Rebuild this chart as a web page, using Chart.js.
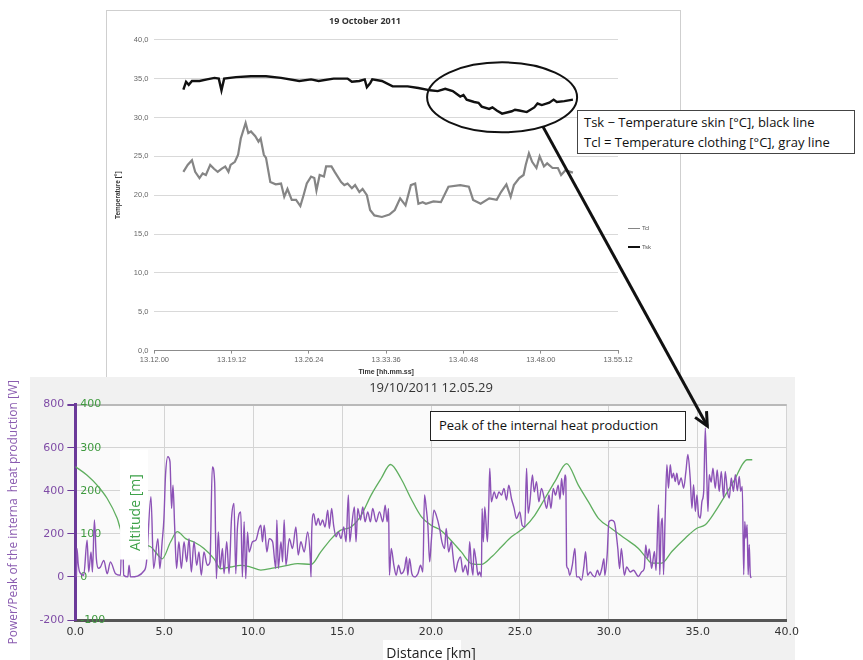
<!DOCTYPE html>
<html>
<head>
<meta charset="utf-8">
<script src="https://cdn.jsdelivr.net/npm/chart.js@4.4.0/dist/chart.umd.min.js"></script>
<style>
  body { margin:0; width:863px; height:660px; position:relative; background:#fff; overflow:hidden; font-family:"Open Sans", sans-serif; }
  #topBox { position:absolute; left:106px; top:10px; width:573px; height:367px; border:1px solid #cfcfcf; border-bottom:none; background:#fff; }
  #topWrap { position:absolute; left:0; top:0; width:573px; height:367px; }
  #bottomBg { position:absolute; left:30px; top:377px; width:765px; height:283px; background:#f1f1f1; }
  #xTitleBg { position:absolute; left:383px; top:640px; width:78px; height:20px; background:#fff; }
  #bottomWrap { position:absolute; left:0; top:377px; width:805px; height:285px; }
  .legend { position:absolute; left:628px; font:6px "Liberation Sans", sans-serif; color:#555; }
  .legend span { display:inline-block; width:12px; vertical-align:middle; margin-right:2px; }
  #skinNote { position:absolute; left:577px; top:110px; width:278px; height:44px; border:1px solid #444; background:#fff;
              font:13px "Open Sans", sans-serif; color:#111; line-height:20px; padding:1px 0 0 6px; box-sizing:border-box; }
  #peakNote { position:absolute; left:430px; top:411px; width:256px; height:30px; border:1.5px solid #222; background:#fff;
              font:13px "Open Sans", sans-serif; color:#111; line-height:27px; padding-left:8px; box-sizing:border-box; }
  #marks { position:absolute; left:0; top:0; width:863px; height:660px; pointer-events:none; }
</style>
</head>
<body>
<div id="topBox"><div id="topWrap"><canvas id="topCanvas"></canvas></div></div>
<div class="legend" style="top:225px"><span style="border-top:1.5px solid #858585"></span>Tcl</div>
<div class="legend" style="top:244px"><span style="border-top:2.5px solid #111"></span>Tsk</div>
<div id="bottomBg"></div>
<div id="xTitleBg"></div>
<div id="bottomWrap"><canvas id="bottomCanvas"></canvas></div>
<div id="skinNote">Tsk &minus; Temperature skin [°C], black line<br>Tcl = Temperature clothing [°C], gray line</div>
<div id="peakNote">Peak of the internal heat production</div>
<svg id="marks" xmlns="http://www.w3.org/2000/svg"></svg>
<script>
// top chart: minutes after 13.12.00
const tskMin = [2.7, 2.95, 3.2, 3.5, 4.2, 4.9, 5.6, 6.0, 6.25, 6.5, 7.6, 9.0, 10.4, 11.8, 13.5, 14.6, 15.3, 16.7, 18.0, 18.4, 19.1, 19.6, 19.8, 20.1, 20.3, 21.2, 22.2, 23.6, 24.6, 25.7, 26.4, 27.1, 27.8, 28.5, 28.8, 29.1, 29.8, 30.2, 30.5, 31.2, 31.5, 31.9, 32.4, 33.3, 33.6, 34.0, 34.7, 35.4, 35.7, 36.1, 36.8, 37.2, 37.5, 38.2, 39.0];
const tskTemp = [33.6, 34.6, 34.2, 34.7, 34.7, 34.9, 35.1, 35.0, 33.5, 35.0, 35.2, 35.3, 35.3, 35.1, 34.7, 34.9, 34.7, 35.0, 35.0, 34.6, 34.7, 34.9, 33.9, 34.4, 34.9, 34.7, 34.0, 34.0, 33.8, 33.5, 33.4, 33.7, 33.4, 32.7, 32.9, 32.3, 32.0, 31.9, 31.4, 31.1, 31.3, 30.9, 30.5, 30.8, 31.0, 30.9, 30.7, 31.3, 31.8, 31.6, 31.9, 32.3, 32.0, 32.1, 32.3];
const tclMin = [2.7, 3.1, 3.5, 3.8, 4.2, 4.5, 4.8, 5.2, 5.55, 5.9, 6.25, 6.6, 6.9, 7.1, 7.5, 7.8, 8.05, 8.5, 8.75, 9.0, 9.4, 9.7, 9.9, 10.2, 10.4, 10.8, 11.3, 11.8, 12.1, 12.4, 12.8, 13.2, 13.6, 13.9, 14.2, 14.6, 14.9, 15.1, 15.4, 15.8, 16.0, 16.5, 16.8, 17.4, 17.7, 18.0, 18.4, 18.7, 19.1, 19.4, 19.8, 20.1, 20.5, 21.2, 21.9, 22.4, 22.9, 23.4, 23.9, 24.3, 24.6, 25.0, 25.3, 26.0, 26.7, 27.4, 28.5, 29.3, 29.7, 30.4, 31.2, 31.9, 32.3, 32.8, 33.2, 33.5, 34.0, 34.4, 34.6, 34.9, 35.2, 35.6, 35.9, 36.3, 36.6, 37.1, 37.6, 37.9, 38.3, 39.0];
const tclTemp = [23.0, 23.9, 24.5, 23.0, 22.2, 22.8, 22.6, 23.9, 23.4, 23.0, 23.4, 23.7, 23.0, 23.9, 24.3, 25.2, 27.3, 29.3, 28.0, 28.2, 27.6, 26.9, 27.3, 25.2, 24.8, 21.7, 21.4, 21.5, 19.8, 20.8, 19.4, 19.4, 18.6, 20.0, 21.5, 22.4, 22.2, 20.6, 22.6, 22.4, 23.7, 23.7, 23.0, 21.7, 21.3, 21.5, 20.9, 21.3, 20.4, 20.8, 20.0, 18.1, 17.4, 17.2, 17.5, 18.1, 19.6, 18.7, 21.3, 21.5, 18.9, 19.1, 18.9, 19.2, 19.1, 21.1, 21.3, 21.1, 19.4, 18.9, 19.6, 19.4, 20.4, 21.4, 19.8, 21.3, 22.2, 22.6, 23.9, 25.4, 24.3, 23.5, 25.0, 23.7, 24.1, 23.5, 23.5, 22.6, 23.2, 22.9];
const timeStart = 13 * 3600 + 12 * 60; // 13.12.00

// bottom chart: distance [km]
const powerKm = [0.0, 0.06, 0.09, 0.16, 0.24, 0.47, 0.66, 0.75, 0.88, 0.96, 1.07, 1.18, 1.3, 1.41, 1.6, 1.79, 1.97, 2.26, 2.54, 2.63, 2.72, 2.95, 3.02, 3.1, 3.89, 4.0, 4.25, 4.4, 4.64, 4.75, 4.88, 4.98, 5.07, 5.2, 5.32, 5.41, 5.49, 5.58, 5.69, 5.82, 5.96, 6.11, 6.26, 6.39, 6.52, 6.67, 6.82, 6.95, 7.08, 7.23, 7.42, 7.57, 7.7, 7.83, 7.93, 8.04, 8.14, 8.27, 8.36, 8.51, 8.64, 8.78, 8.92, 9.02, 9.11, 9.3, 9.39, 9.49, 9.58, 9.68, 9.77, 9.96, 10.15, 10.33,
  10.43, 10.52, 10.62, 10.77, 10.9, 11.09, 11.27, 11.33, 11.41, 11.56, 11.65, 11.74, 11.84, 12.03, 12.21, 12.4, 12.53, 12.68, 12.87, 13.06, 13.21, 13.25, 13.29, 13.4, 13.53, 13.66, 13.77, 13.9, 14.04, 14.19, 14.28, 14.41, 14.52, 14.66, 14.79, 14.94, 15.09, 15.22, 15.35, 15.43, 15.54, 15.69, 15.78, 15.88, 16.03, 16.16, 16.29, 16.44, 16.59, 16.72, 16.91, 17.1, 17.29, 17.42, 17.53, 17.61, 17.66, 17.76, 17.91, 18.04, 18.17, 18.32, 18.51, 18.62, 18.69, 18.79, 18.92, 19.07, 19.26, 19.41, 19.54, 19.63, 19.73, 19.82, 19.92, 20.01, 20.16, 20.29, 20.48, 20.61, 20.76, 20.85, 20.99, 21.14, 21.23, 21.36, 21.51, 21.66,
  21.79, 21.93, 22.08, 22.17, 22.27, 22.36, 22.41, 22.55, 22.64, 22.73, 22.83, 22.87, 22.94, 23.02, 23.17, 23.24, 23.3, 23.39, 23.55, 23.68, 23.82, 23.96, 24.1, 24.24, 24.37, 24.52, 24.67, 24.8, 24.99, 25.12, 25.27, 25.37, 25.46, 25.56, 25.7, 25.8, 25.93, 26.06, 26.21, 26.35, 26.5, 26.63, 26.74, 26.87, 27.0, 27.15, 27.25, 27.34, 27.44, 27.53, 27.58, 27.62, 27.7, 27.8, 27.94, 28.09, 28.18, 28.3, 28.46, 28.6, 28.69, 28.8, 28.95, 29.08, 29.21, 29.36, 29.47, 29.6, 29.72, 29.77, 29.9, 30.0, 30.15, 30.3, 30.5, 30.6, 30.7, 30.87, 31.0, 31.2, 31.38,
  31.66, 31.85, 31.99, 32.07, 32.17, 32.27, 32.4, 32.56, 32.65, 32.79, 32.86, 32.94, 33.01, 33.07, 33.16, 33.26, 33.35, 33.45, 33.54, 33.63, 33.73, 33.82, 33.92, 34.06, 34.2, 34.33, 34.44, 34.57, 34.67, 34.76, 34.86, 34.95, 35.04, 35.14, 35.23, 35.33, 35.42, 35.5, 35.57, 35.64, 35.75, 35.85, 35.98, 36.09, 36.2, 36.32, 36.45, 36.54, 36.66, 36.77, 36.88, 37.0, 37.11, 37.22, 37.33, 37.41, 37.5, 37.58, 37.64, 37.7, 37.77, 37.83, 37.89, 37.95, 38.0];
const powerW = [0, 8, 132, 60, 23, 8, 171, 23, 116, 23, 264, 85, 40, 46, 77, 15, 70, 15, 8, 325, 8, 0, 54, 0, 31, 70, 372, 39, 178, 39, 163, 271, 473, 558, 535, 318, 426, 240, 39, 163, 39, 163, 70, 178, 23, 163, 54, 116, 8, 116, 54, 70, 511, 442, -8, 209, 39, 132, 15, 163, 15, 271, 341, 15, 225, 302, 0, 256, -8, 209, 116, 163, 171, 225,
  240, 163, 240, 116, 178, 163, 39, 264, 39, 163, 70, 264, 54, 178, 132, 232, 101, 163, 116, 209, 85, 0, 209, 294, 240, 271, 240, 264, 232, 310, 225, 318, 240, 186, 209, 178, 232, 163, 380, 163, 240, 325, 163, 318, 264, 325, 256, 302, 256, 318, 256, 302, 256, 333, 256, 318, 8, 132, 54, 8, 54, 15, 39, 93, 8, 85, 15, 0, 15, 54, 23, 380, 318, 240, 70, 163, 310, 287, 225, 163, 132, 225, 116, 163, 101, 23, 70, 93,
  23, 54, 8, 163, 54, 8, 132, 62, 8, 23, 0, 318, 163, 325, 163, 318, 504, 349, 395, 364, 395, 380, 411, 357, 426, 364, 318, 271, 302, 240, 232, 504, 295, 349, 473, 395, 442, 349, 411, 370, 318, 380, 318, 411, 380, 426, 360, 457, 380, 473, 457, 54, 39, 8, 54, 132, 0, 0, -15, 54, 117, 8, 23, 8, 0, 31, 8, 39, 85, 8, 100, 256, 263, 256, 132, 39, 132, 8, 46, 23, 31,
  2, 25, 40, 149, 87, 130, 40, 118, 30, 335, 10, 242, 273, 10, 273, 521, 412, 521, 459, 482, 443, 482, 428, 460, 412, 490, 568, 459, 319, 428, 304, 381, 288, 273, 350, 397, 691, 474, 304, 474, 440, 505, 412, 497, 397, 490, 366, 490, 400, 366, 459, 397, 474, 400, 466, 397, 420, 10, 257, 180, 242, 10, 150, 10, -5];
const altKm = [0.0, 0.66, 1.22, 1.79, 2.35, 2.63, 4.23, 4.64, 4.88, 5.35, 5.73, 6.2, 6.67, 7.23, 7.8, 8.17, 8.73, 9.3, 9.86, 10.43, 11.18, 11.93, 12.5, 13.25, 13.8, 14.4, 14.9, 15.5, 16.07, 16.63, 17.2, 17.72, 18.3, 18.87, 19.45, 20.0, 20.56, 21.14, 21.7, 22.27, 22.83, 23.39, 23.96, 24.52, 25.27, 25.83, 26.4, 26.96, 27.62, 28.28, 28.85, 29.41, 30.16, 30.91, 31.66, 32.13, 32.41, 32.97, 33.54, 34.29, 34.95, 35.42, 35.98, 36.55, 37.11, 37.49, 37.77, 38.06];
const altM = [256, 236, 213, 182, 136, 101, 70, 51, 42, 81, 105, 89, 81, 66, 42, 19, 23, 27, 23, 16, 21, 27, 31, 29, 58, 89, 108, 116, 143, 190, 229, 261, 229, 182, 140, 120, 108, 84, 58, 31, 29, 46, 70, 93, 116, 143, 182, 221, 263, 213, 174, 136, 112, 89, 66, 43, 32, 32, 59, 90, 113, 121, 152, 190, 229, 260, 272, 272];
const peakKm = 35.42, peakW = 691;

const clock = s => {
  const t = timeStart + Math.round(s);
  const hh = Math.floor(t / 3600), mm = Math.floor(t / 60) % 60, ss = t % 60;
  return [hh, mm, ss].map(n => String(n).padStart(2, '0')).join('.');
};
const pairs = (xs, ys, f = v => v) => xs.map((x, i) => ({ x: f(x), y: ys[i] }));

const plotBg = {
  id: 'plotBg',
  beforeDraw(chart, args, opts) {
    if (!opts.color) return;
    const { ctx, chartArea: a } = chart;
    ctx.save();
    ctx.fillStyle = opts.color;
    ctx.fillRect(a.left, a.top, a.right - a.left, a.bottom - a.top);
    ctx.restore();
  }
};

// white box with the green axis name, drawn over the lines as in the original
const altLabel = {
  id: 'altLabel',
  afterDatasetsDraw(chart) {
    const { ctx, scales } = chart;
    const cx = scales.x.getPixelForValue(3.3);
    const cy = scales.y.getPixelForValue(336);
    ctx.save();
    ctx.fillStyle = '#fff';
    ctx.fillRect(cx - 14, cy - 55, 28, 110);
    ctx.translate(cx + 2, cy + 8);
    ctx.rotate(-Math.PI / 2);
    ctx.fillStyle = '#3fa24a';
    ctx.font = '14px "Open Sans", sans-serif';
    ctx.textAlign = 'center';
    ctx.textBaseline = 'middle';
    ctx.fillText('Altitude [m]', 0, 0);
    ctx.restore();
  }
};

const topChart = new Chart(document.getElementById('topCanvas'), {
  type: 'line',
  data: {
    datasets: [
      { label: 'Tcl', data: pairs(tclMin, tclTemp, m => m * 60), borderColor: '#858585', borderWidth: 2.2, pointRadius: 0, tension: 0 },
      { label: 'Tsk', data: pairs(tskMin, tskTemp, m => m * 60), borderColor: '#111', borderWidth: 2.4, pointRadius: 0, tension: 0 }
    ]
  },
  options: {
    animation: false,
    responsive: true,
    maintainAspectRatio: false,
    layout: { padding: { left: 5, right: 62, top: 0, bottom: 2 } },
    plugins: {
      legend: { display: false },
      tooltip: { enabled: false },
      title: { display: true, text: '19 October 2011', color: '#333', font: { family: 'Open Sans', size: 9, weight: 'bold' }, padding: { top: 5, bottom: 13 } }
    },
    scales: {
      x: {
        type: 'linear', min: 0, max: 2592,
        ticks: { stepSize: 432, callback: v => clock(v), color: '#666', font: { family: 'Liberation Sans', size: 7.5 }, maxRotation: 0, autoSkip: false, padding: 2 },
        grid: { drawOnChartArea: false, tickLength: 3, color: '#8c8c8c' },
        border: { color: '#8c8c8c' },
        title: { display: true, text: 'Time [hh.mm.ss]', color: '#333', font: { family: 'Liberation Sans', size: 7, weight: 'bold' }, padding: { top: 1, bottom: 0 } }
      },
      y: {
        min: 0, max: 40,
        ticks: { stepSize: 5, callback: v => v.toFixed(1).replace('.', ','), color: '#666', font: { family: 'Liberation Sans', size: 7.5 }, padding: 6 },
        grid: { color: '#d9d9d9', drawTicks: false },
        border: { display: false },
        title: { display: true, text: 'Temperature [°]', color: '#333', font: { family: 'Liberation Sans', size: 6.5, weight: 'bold' }, padding: { top: 2, bottom: 6 } }
      }
    }
  }
});

const bottomChart = new Chart(document.getElementById('bottomCanvas'), {
  type: 'line',
  data: {
    datasets: [
      { label: 'Power', data: pairs(powerKm, powerW), yAxisID: 'y', borderColor: '#8c52b6', borderWidth: 1.4, pointRadius: 0, cubicInterpolationMode: 'monotone' },
      { label: 'Altitude', data: pairs(altKm, altM), yAxisID: 'alt', borderColor: '#5fae5f', borderWidth: 1.3, pointRadius: 0, cubicInterpolationMode: 'monotone' }
    ]
  },
  options: {
    animation: false,
    responsive: true,
    maintainAspectRatio: false,
    layout: { padding: { left: 2, right: 0, top: 0, bottom: 0 } },
    plugins: {
      legend: { display: false },
      tooltip: { enabled: false },
      plotBg: { color: '#fafafa' },
      title: { display: true, fullSize: false, text: '19/10/2011 12.05.29', color: '#333', font: { family: 'Open Sans', size: 13, weight: 'normal' }, padding: { top: 3, bottom: 9 } }
    },
    scales: {
      x: {
        type: 'linear', min: 0, max: 40,
        ticks: { stepSize: 5, callback: v => v.toFixed(1), color: '#333', font: { family: 'DejaVu Sans', size: 11 }, maxRotation: 0, padding: 6 },
        grid: { color: ctx => (ctx.tick && ctx.tick.value === 0 ? 'transparent' : '#d4d4d4'), drawTicks: false },
        border: { color: '#555', width: 3 },
        title: { display: true, text: 'Distance [km]', color: '#222', font: { family: 'Open Sans', size: 14 }, padding: { top: 0, bottom: 0 } }
      },
      y: {
        position: 'left', weight: 1, min: -200, max: 800,
        ticks: { stepSize: 200, color: '#7f4ca6', font: { family: 'DejaVu Sans', size: 11 }, padding: 3 },
        grid: {
          color: ctx => (ctx.tick.value === -200 ? 'transparent' : ctx.tick.value === 800 ? '#b9b9b9' : '#d4d4d4'),
          lineWidth: ctx => (ctx.tick.value === 800 ? 2 : 1),
          tickColor: '#6b3a99', tickLength: 8
        },
        border: { color: '#6b3a99', width: 3 },
        title: { display: true, text: 'Power/Peak of the interna  heat production [W]', color: '#8a5cb0', font: { family: 'Open Sans', size: 12 }, padding: { top: 4, bottom: 16 } }
      },
      alt: {
        position: 'left', weight: 0, min: -100, max: 400,
        ticks: { stepSize: 100, mirror: true, color: '#3f9a3f', font: { family: 'DejaVu Sans', size: 11 }, padding: 5 },
        grid: { display: false, drawTicks: false },
        border: { display: false },
        afterFit: scale => { scale.width = 0; }
      }
    }
  },
  plugins: [plotBg, altLabel]
});

// ellipse round the skin temperature drop and the arrow to the power peak
(function drawMarks() {
  const svg = document.getElementById('marks');
  const tr = document.getElementById('topCanvas').getBoundingClientRect();
  const br = document.getElementById('bottomCanvas').getBoundingClientRect();
  const ex = tr.left + topChart.scales.x.getPixelForValue(32.4 * 60);
  const ey = tr.top + topChart.scales.y.getPixelForValue(32.6);
  const rx = 75, ry = 35;
  const th = 57 * Math.PI / 180;
  const x1 = ex + rx * Math.cos(th), y1 = ey + ry * Math.sin(th);
  const x2 = br.left + bottomChart.scales.x.getPixelForValue(peakKm) + 2;
  const y2 = br.top + bottomChart.scales.y.getPixelForValue(peakW) - 2;
  const ang = Math.atan2(y2 - y1, x2 - x1);
  const head = a => `${x2 - 15 * Math.cos(ang + a)},${y2 - 15 * Math.sin(ang + a)}`;
  svg.innerHTML =
    `<ellipse cx="${ex}" cy="${ey}" rx="${rx}" ry="${ry}" fill="none" stroke="#111" stroke-width="2"/>` +
    `<line x1="${x1}" y1="${y1}" x2="${x2}" y2="${y2}" stroke="#111" stroke-width="3"/>` +
    `<polyline points="${head(0.45)} ${x2},${y2} ${head(-0.45)}" fill="none" stroke="#111" stroke-width="3"/>`;
})();
</script>
</body>
</html>
